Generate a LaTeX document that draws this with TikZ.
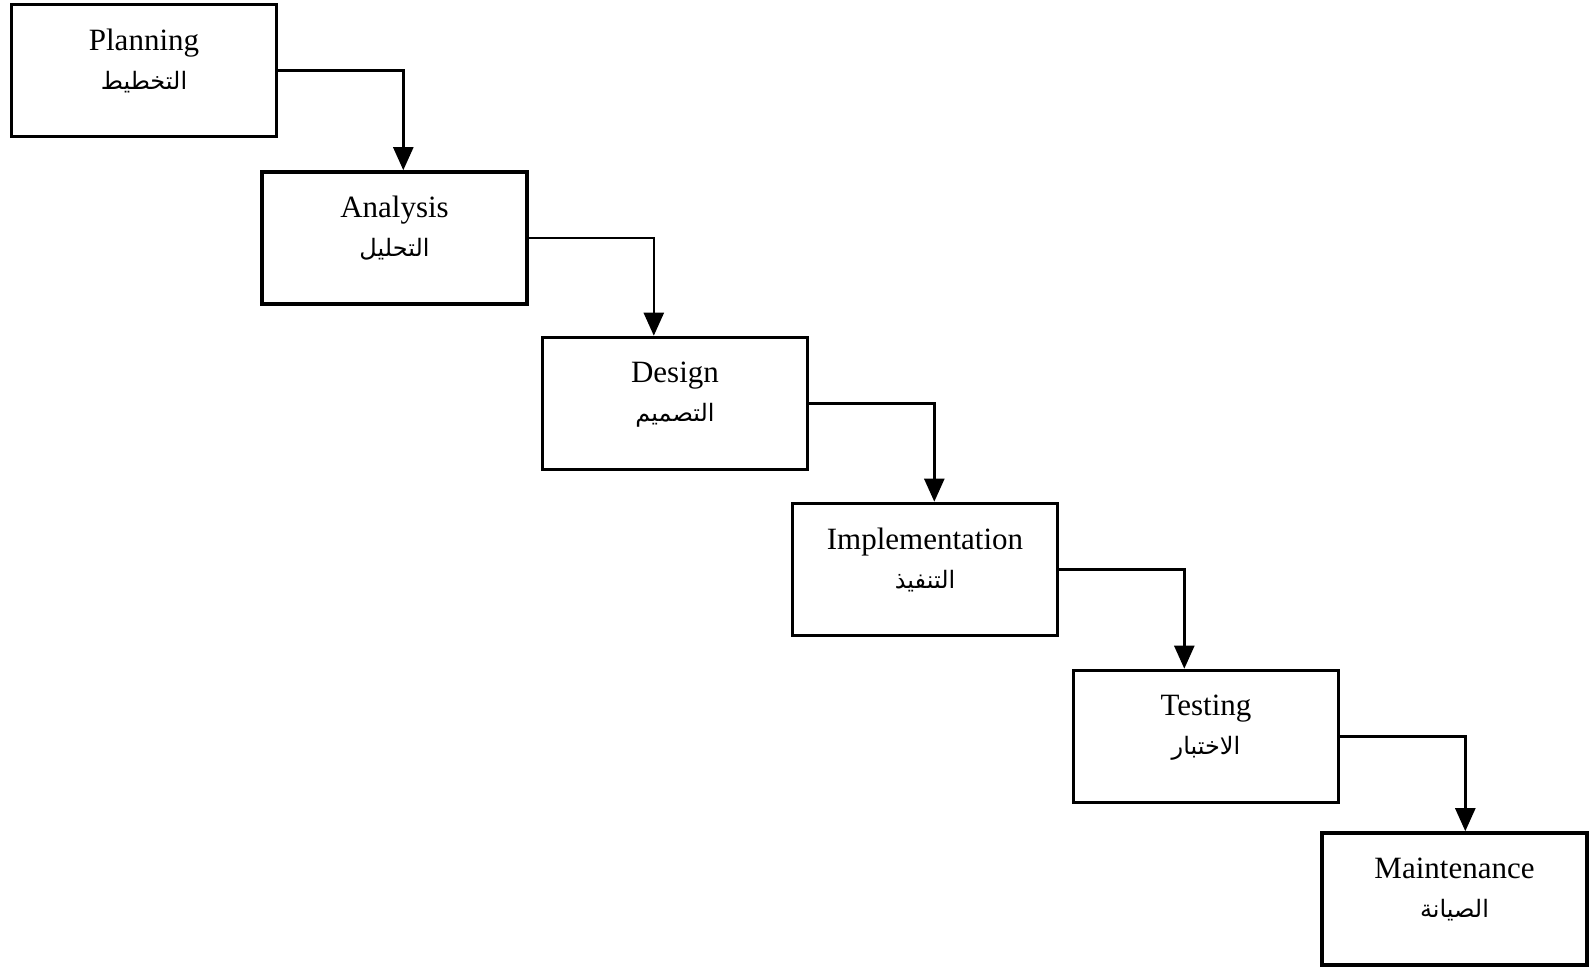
\documentclass[tikz,border=0pt]{standalone}
\usepackage{fontspec}
\setmainfont{Liberation Serif}
\newfontfamily\arabicfont[Script=Arabic]{DejaVu Sans}
\TeXXeTstate=1
\usepackage{tikz}
\usetikzlibrary{arrows.meta, positioning, calc}

\newcommand{\stagetext}[2]{#1\\{\arabicfont\fontsize{12}{19.5}\selectfont\beginR #2\endR}\\[-14pt]\strut}

\begin{document}
\begin{tikzpicture}[
    x=0.5pt, y=-0.5pt,
    box/.style={draw, line width=1.8pt, minimum height=66pt, minimum width=132.5pt,
                inner sep=0pt, align=center, font=\fontsize{15.5}{19.5}\selectfont},
    flow/.style={line width=1.2pt, -{Triangle[length=11.5pt, width=10pt]}},
]
\useasboundingbox (0,0) rectangle (1594,967);

\node[box] (plan)  at (144,70.5)    {\stagetext{Planning}{التخطيط}};
\node[box] (anal)  at (394.5,238)   {\stagetext{Analysis}{التحليل}};
\node[box] (desn)  at (675,403.5)   {\stagetext{Design}{التصميم}};
\node[box] (impl)  at (925,569.5)   {\stagetext{Implementation}{التنفيذ}};
\node[box] (test)  at (1206,736.5)  {\stagetext{Testing}{الاختبار}};
\node[box] (maint) at (1454.5,899)  {\stagetext{Maintenance}{الصيانة}};

\draw[flow] (plan.east) -- ++(125,0) coordinate (k1) -- (k1 |- anal.north);
\draw[flow] (anal.east) -- ++(125,0) coordinate (k2) -- (k2 |- desn.north);
\draw[flow] (desn.east) -- ++(125,0) coordinate (k3) -- (k3 |- impl.north);
\draw[flow] (impl.east) -- ++(125,0) coordinate (k4) -- (k4 |- test.north);
\draw[flow] (test.east) -- ++(125,0) coordinate (k5) -- (k5 |- maint.north);
\end{tikzpicture}
\end{document}
